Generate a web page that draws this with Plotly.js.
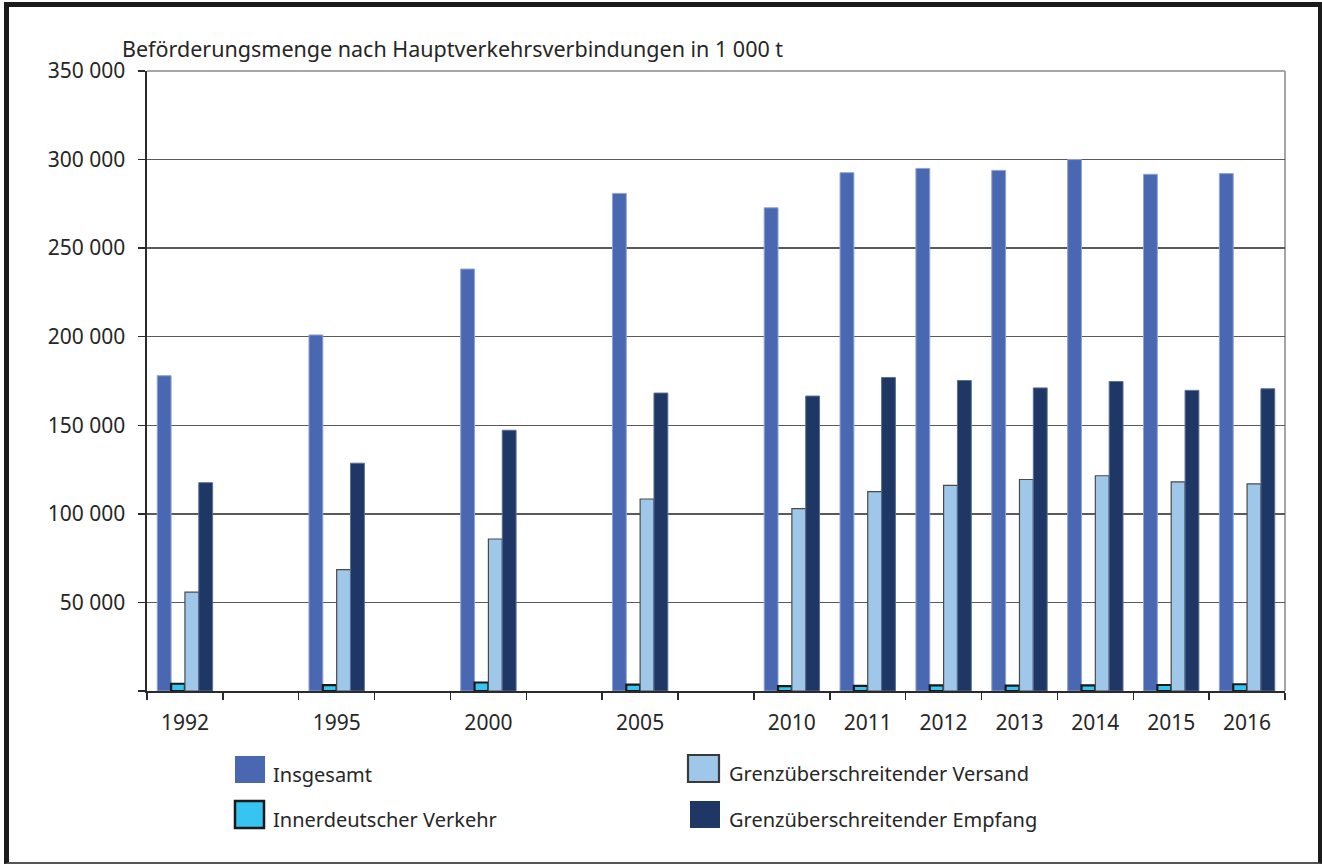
<!DOCTYPE html>
<html>
<head>
<meta charset="utf-8">
<script src="https://cdn.plot.ly/plotly-3.0.1.min.js"></script>
<style>
  html, body { margin: 0; padding: 0; background: #fff; }
  #wrap { position: relative; width: 1322px; height: 865px; }
  #chart { width: 1322px; height: 865px; }
  #frame { position: absolute; left: 4px; top: 2px; width: 1318px; height: 862px; box-sizing: border-box;
           border-left: 5px solid #1b1b1b; border-top: 5px solid #1b1b1b; border-right: 4px solid #1b1b1b;
           border-bottom: 2px solid #555; pointer-events: none; }
</style>
</head>
<body>
<div id="wrap"><div id="chart"></div><div id="frame"></div></div>
<script>
// ---- data ----
const categories = ["1992", "", "1995", "", "2000", "", "2005", "", "2010", "2011", "2012", "2013", "2014", "2015", "2016"];
const insgesamt    = [178000, null, 201000, null, 238200, null, 280900, null, 272800, 292600, 295000, 293900, 300000, 291700, 292100];
const innerdeutsch = [4100, null, 3300, null, 4800, null, 3600, null, 2700, 2900, 3200, 3000, 3200, 3400, 3800];
const versand      = [55800, null, 68500, null, 85800, null, 108400, null, 103000, 112500, 116100, 119400, 121500, 118100, 116900];
const empfang      = [117600, null, 128600, null, 147200, null, 168200, null, 166500, 177000, 175300, 171100, 174700, 169700, 170600];
const seriesNames  = ["Insgesamt", "Innerdeutscher Verkehr", "Grenzüberschreitender Versand", "Grenzüberschreitender Empfang"];
const yTickValues  = [0, 50000, 100000, 150000, 200000, 250000, 300000, 350000];
const yTickLabels  = ["", "50 000", "100 000", "150 000", "200 000", "250 000", "300 000", "350 000"];
const titleText = "Beförderungsmenge nach Hauptverkehrsverbindungen in 1 000 t";

// ---- styles ----
const FONT = "Noto Sans, sans-serif";
const TXT = "#262626";
const styles = [
  {fill: "#4A68B2", line: "#8fa3d4", lw: 1},
  {fill: "#38C4F1", line: "#1a1a1a", lw: 2.2},
  {fill: "#9EC7EA", line: "#4a4a4a", lw: 1.2},
  {fill: "#1E3764", line: "#5a6f96", lw: 1}
];
const values = [insgesamt, innerdeutsch, versand, empfang];
const xIdx = categories.map((c, i) => i);

const traces = values.map((v, k) => ({
  type: "bar",
  name: seriesNames[k],
  x: xIdx,
  y: v,
  marker: {color: styles[k].fill, line: {color: styles[k].line, width: styles[k].lw}},
  hoverinfo: "x+y+name"
}));

// plot area in pixels
const W = 1322, H = 865;
const L = 147, R = 1285, T = 71, B = 691;
const px2x = p => (p - L) / (R - L);
const px2y = p => (B - p) / (B - T);

const tickVals = xIdx.filter(i => categories[i] !== "");
const tickText = tickVals.map(i => categories[i]);
const boundaries = [-0.5].concat(xIdx.map(i => i + 0.5));

// custom legend (2 x 2)
const legendItems = [
  {k: 0, sx0: 235, sx1: 265, sy0: 756, sy1: 783, tx: 271, ty: 774},
  {k: 1, sx0: 235, sx1: 264, sy0: 801, sy1: 828, tx: 271, ty: 819},
  {k: 2, sx0: 688, sx1: 719, sy0: 755, sy1: 782, tx: 727, ty: 773},
  {k: 3, sx0: 690, sx1: 720, sy0: 801, sy1: 828, tx: 727, ty: 819}
];
const legendBorder = ["rgba(0,0,0,0)", "#1a1a1a", "#3a3a3a", "rgba(0,0,0,0)"];
const legendBW = [0, 2.5, 2.2, 0];

const shapes = [
  {type: "line", xref: "paper", yref: "paper", x0: 0, x1: 1, y0: 1, y1: 1, line: {color: "#a6a6a6", width: 2}, layer: "between"},
  {type: "line", xref: "paper", yref: "paper", x0: 1, x1: 1, y0: 0, y1: 1, line: {color: "#a6a6a6", width: 2}, layer: "between"}
];
const annotations = [];
legendItems.forEach(it => {
  shapes.push({
    type: "rect", xref: "paper", yref: "paper",
    x0: px2x(it.sx0), x1: px2x(it.sx1), y0: px2y(it.sy1), y1: px2y(it.sy0),
    fillcolor: styles[it.k].fill, line: {color: legendBorder[it.k], width: legendBW[it.k]}
  });
  annotations.push({
    xref: "paper", yref: "paper", x: px2x(it.tx), y: px2y(it.ty),
    xanchor: "left", yanchor: "middle", showarrow: false,
    text: seriesNames[it.k], font: {family: FONT, size: 20, color: TXT}
  });
});

const layout = {
  width: W, height: H,
  margin: {l: L, r: W - R, t: T, b: H - B, pad: 0},
  paper_bgcolor: "#fff", plot_bgcolor: "#fff",
  separators: ", ",
  font: {family: FONT, size: 20, color: TXT},
  title: {
    text: titleText, xref: "container", yref: "container",
    x: 122 / W, xanchor: "left", y: 1 - 49 / H, yanchor: "middle",
    font: {family: FONT, size: 21.5, color: TXT}
  },
  showlegend: false,
  barmode: "group", bargap: 0.27, bargroupgap: 0,
  xaxis: {
    range: [-0.5, categories.length - 0.5], fixedrange: true,
    tickmode: "array", tickvals: tickVals, ticktext: tickText,
    ticks: "", showgrid: false, zeroline: false,
    showline: true, linecolor: "#2b2b2b", linewidth: 1.6,
    ticklabelstandoff: 12,
    tickfont: {family: FONT, size: 21, color: TXT},
    minor: {tickmode: "array", tickvals: boundaries, ticks: "outside", ticklen: 7, tickwidth: 1.5, tickcolor: "#2b2b2b", showgrid: false}
  },
  yaxis: {
    range: [0, 350000], fixedrange: true,
    tickmode: "array", tickvals: yTickValues, ticktext: yTickLabels,
    ticks: "outside", ticklen: 7, tickwidth: 1.5, tickcolor: "#2b2b2b",
    showgrid: true, gridcolor: "#5a5a5a", gridwidth: 1.4, zeroline: false,
    showline: true, linecolor: "#2b2b2b", linewidth: 1.6,
    ticklabelstandoff: 9,
    tickfont: {family: FONT, size: 21, color: TXT}
  },
  shapes: shapes,
  annotations: annotations
};

Plotly.newPlot("chart", traces, layout, {displayModeBar: false, staticPlot: true});
</script>
</body>
</html>
